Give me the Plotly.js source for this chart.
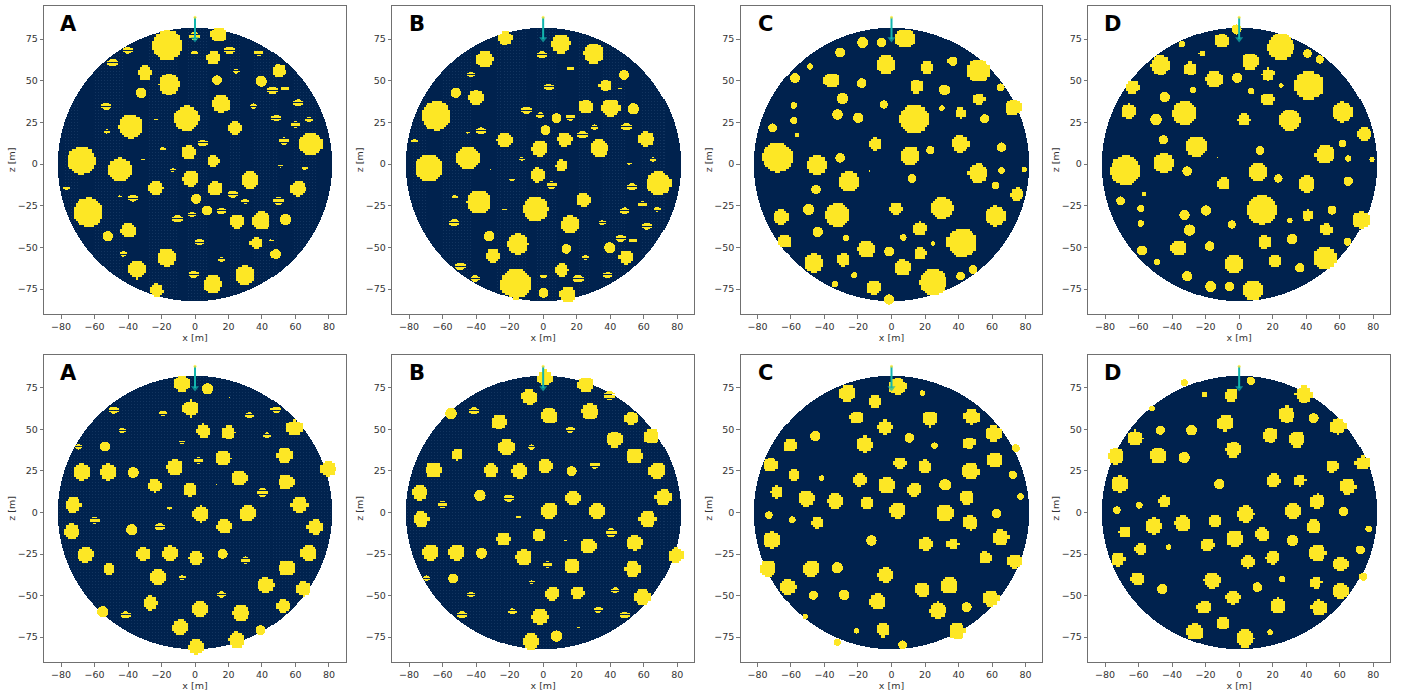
<!DOCTYPE html>
<html><head><meta charset="utf-8">
<script src="https://cdn.plot.ly/plotly-3.0.1.min.js"></script>
<style>html,body{margin:0;padding:0;background:#fff}#c{width:1402px;height:693px}</style>
</head><body><div id="c"></div>
<script>
// blobs: [x, z, radius] in metres
const topA=[[-16.5,71.6,9],[14,78,4.7],[0,77,2.6],[21,68.6,2.7],[38.5,67,2],[11,64,4],[0,67,1.5],[-40,68.6,2.2],[-49,61,2.7],[-30,55,4.2],[-15.5,48,6.2],[13.5,50.6,2.9],[25,56,1.5],[50,56,4.2],[40,50,3.3],[46.5,44.4,2.4],[53.7,45.6,1.8],[-32,43,3.2],[15.7,36.4,5.5],[61.6,36.8,2.4],[35.4,35,1.6],[-53,35,2.5],[-5,27.4,7.6],[48.7,28,2.1],[68,27,1.6],[60,24,2],[-23,27,.6],[-38.5,22.6,7.2],[24,21.6,4.3],[-52.7,19.8,1.3],[53,14,2.3],[69,12,7.1],[5,12.6,2.4],[-19,9.4,1.2],[-4,6.8,4.4],[-68,2.2,8.4],[11,1.8,3.6],[-45,-3.4,7.1],[-31,2.8,.4],[51,-1,.9],[65.6,-2,1.3],[-13,-3.4,1.2],[-2.6,-8.8,4.8],[33,-9.4,5.4],[-23.5,-14.2,4.4],[12.3,-14.8,4.4],[61.6,-14.8,4.5],[-76.7,-14,1.4],[23,-17.6,2.6],[-37,-20,2.3],[-45,-19,.6],[1,-20.6,3],[30.4,-22,1.7],[49.7,-22,2.6],[-64,-29,8.8],[7.5,-27.6,3],[16,-28,2.2],[-1.6,-30,1.8],[-10.3,-32.6,2.5],[25,-34.4,4.4],[40,-34,5.6],[54,-33,3.4],[-40,-39.8,4.6],[-52,-43,3.1],[3,-46.4,2.2],[37,-47.4,3.5],[45.7,-45.4,.5],[-42.7,-53.6,1.7],[-17,-56,5.6],[48.3,-53.8,3],[16.3,-57,1.4],[-34.8,-63,5.4],[-.6,-65.8,2.4],[30,-66.8,6],[10.4,-72,5.6],[-23,-75.8,4]];
const topB=[[-23,75.8,4],[-35,63,5.3],[-43,54,1.7],[-52,43,3.1],[-40,40,4.6],[-64,29,8.8],[-37,20,2.3],[-45,19,.6],[-76.7,14,1.4],[-23.3,14.4,4.4],[-68.4,-2.4,8.3],[-45,3.6,7.1],[-31,-2.8,.4],[-13,3.4,1.2],[-19,-9,1.2],[-38.5,-22.8,7.2],[-52.7,-19.6,1.3],[-23,-27,.6],[-5,-27,7.6],[-53,-35,2.5],[-32,-43,3.2],[-15.7,-48,6.2],[-30,-55,4.2],[-49.3,-61,2.7],[-40.4,-68.4,2.2],[-16.7,-71.6,9],[0,-77,3],[14,-78,4.7],[20.7,-68.6,2.7],[10.5,-63.6,4],[0,-67,1.5],[38.4,-66.4,2],[25,-55.8,1.5],[13.7,-50.6,2.9],[39.8,-50,3.3],[49.5,-56,4.2],[46.3,-44.4,2.4],[53.7,-45.6,1.8],[15.7,-36.4,5.5],[35.2,-35,1.6],[62,-36.8,2.4],[48.7,-27.8,2.1],[68.2,-26.8,1.6],[59.4,-23.8,1.8],[23.7,-21.4,4.3],[53,-13.4,2.3],[68.8,-11.6,7.1],[4.8,-12.4,2.4],[-3.8,-6.6,4.4],[10.7,-1,3.6],[51.3,.8,.9],[65.6,3,1.3],[-2.6,9.2,4.8],[33.2,9.4,5.4],[12.5,14.8,4.4],[61.6,15,4.5],[23.3,17.6,2.6],[1.2,20.6,3],[30.6,22.4,1.7],[49.7,22.4,2.6],[7.8,27.8,3],[16,28.4,2.2],[-2,29.6,1.8],[-10.3,32.6,2.5],[24.9,34.4,4.4],[40.2,33.8,5.6],[53.9,33.4,3.4],[3.2,46.4,2.2],[37,47.4,3.5],[45.7,45.6,.5],[48.3,53.8,3],[16.1,57.6,1.4],[-.8,65.8,2.4],[29.8,66.6,6],[10.1,72.2,5.6]];
const topC=[[7.8,75.6,6],[-6,73.2,2.8],[-17.3,73.2,3.3],[-30.8,67.2,3],[36.2,62,2.8],[-3.6,60.2,5.6],[20.9,58.4,4],[51.5,56.2,7],[-48.9,58.8,1.9],[-57.9,51.8,3],[-36.2,50.4,4.8],[-17.9,48.8,2.9],[14.9,46.8,4],[31.6,44.8,3.2],[64.8,46.2,2.4],[51.9,39.2,3.6],[-29.4,39.6,3.4],[-58.6,35.4,2],[-4.6,36,2.5],[72.4,34,5],[30.2,33.8,1.7],[40.8,31,3.5],[13.3,27,8.9],[-32.4,30,3.1],[-58.6,26.4,2.1],[-20,28,3.1],[55.3,27.4,2.7],[-70.8,22,2.6],[-56.7,17.8,1.4],[-10,12,3.8],[40.6,12.2,5.2],[65.4,10.4,2.8],[23.3,8.6,2.5],[-68.2,4,8.9],[-30.8,4,2.9],[10.9,5,5.8],[-45,-.6,6.1],[-13.3,-4,.5],[65.4,-3.6,1.9],[79,-3,1.6],[51.3,-5.6,5.8],[12.3,-8.4,2.6],[-25.8,-10.4,6.2],[61.8,-12.6,2.2],[-45.3,-15,2.8],[74.6,-18.2,4],[2.4,-26.8,3.7],[29.8,-26.4,6.6],[-49.7,-27,3.4],[-32.8,-30.6,7.2],[61.6,-31.2,6.2],[-66.2,-31.8,4.5],[16.7,-38.8,4.1],[-44.3,-40.4,3.1],[-27.4,-44.2,1.9],[7,-43.8,2],[41.7,-47.2,8.7],[24.9,-47.4,1.4],[-64,-46.4,4],[-15.3,-51.2,5.2],[-1.4,-52.2,3],[16.9,-53.8,3.7],[-29.2,-57.4,3.9],[-47,-59.4,5.8],[6.4,-62.2,5],[48.3,-63,2.6],[40.8,-67,2.6],[-22.3,-66.4,1.9],[24.7,-70.8,8.1],[-34,-71.8,2],[-10.9,-74.2,4.4],[-1.4,-81,3.1]];
const topD=[[-1.8,81,3],[-10.9,74.2,4.4],[-34,72.2,2],[24.5,70.6,8.1],[-22.3,66.6,1.8],[40.8,66.6,2.6],[48.1,63,2.5],[6.2,61.8,5],[-47.1,59.6,5.8],[-29.2,57.4,3.9],[16.9,54,3.7],[-1.4,52,3],[-15.3,51,5.2],[-63.8,46.4,4],[25,47.4,1.4],[41.6,47.4,8.7],[7,44,2],[-27.2,44.6,1.9],[-44.3,40.4,3.1],[16.7,39,4.1],[-66.2,31.6,4.5],[61.6,31.2,6.2],[-32.8,30.6,7.2],[-49.5,27,3.4],[29.8,26.4,6.6],[2.4,26.6,3.7],[74.4,18.2,4],[-45.1,14.8,2.8],[61.8,12.6,2.2],[-26,10.6,6.2],[12.3,8.4,2.6],[51.3,5.8,5.8],[-13.3,4.2,.5],[65.2,3.6,1.9],[78.9,3,1.6],[-45.1,.6,6.1],[-68.2,-3.8,8.9],[-30.8,-4,2.9],[10.9,-4.8,5.8],[23.3,-8.4,2.5],[40.4,-12,5.2],[-9.9,-11.8,3.8],[65.2,-10,2.8],[-56.7,-17.6,1.4],[-70.8,-21.8,2.6],[55.5,-27.4,2.7],[-58.6,-26.4,2.1],[-20,-27.6,3.1],[13.1,-27.4,8.9],[-32.4,-30.2,3.1],[40.8,-31,3.5],[30.2,-33.6,1.7],[72.6,-33.6,5],[-58.6,-35.4,2],[-4.6,-36,2.5],[-29.4,-39.4,3.4],[52.1,-39.2,3.6],[64.8,-46.4,2.4],[31.6,-44.8,3.2],[14.9,-46.8,4],[-17.9,-49,2.9],[-36.2,-50.4,4.8],[-57.9,-51.6,3],[-48.9,-58.6,1.9],[51.5,-56.4,7],[20.9,-58.4,4],[-3.6,-60.2,5.6],[36.2,-62,2.8],[-30.8,-67,3],[-17.3,-73.2,3.3],[-6,-73.2,2.8],[7.8,-75.6,6]];
const botA=[[-7.8,77.6,4.8],[7.8,74.2,3.4],[20.7,68.6,.5],[-2.6,62.4,4.9],[-48.5,61.6,2.4],[48.5,61.8,2.4],[-18.9,59.6,1.9],[32.8,58.2,2],[5,48.8,4.1],[20,48,4],[59.4,50.6,4.9],[-43.3,49.2,1.7],[43.5,46.2,1.9],[-53.7,39.6,3],[-7.4,42,1.2],[-69.6,39.4,1.7],[53.7,34.2,4.8],[17,32.4,4.6],[2.2,31.2,2],[-12.1,26.8,4.9],[-51.9,24,5],[-67.8,24,5],[-36.8,24,3.3],[79.5,26,4.6],[26.8,20.4,4.8],[54.5,18,4.7],[-24,16,4],[-3,13.6,4.2],[13,17,.4],[40.6,12,2.8],[-73,4.4,4.7],[62.4,4.4,4.9],[-15,2.6,.9],[3.4,-1.2,4.9],[31.6,-.8,5],[-59.8,-4.6,2.2],[17.5,-8.6,4.5],[71.8,-9,4.7],[-20.9,-8.8,2.5],[-37.6,-10.4,3.4],[-73.8,-11.8,4.7],[16.9,-24.8,3],[-14.9,-24.8,4.6],[-31,-25.2,4.2],[-65.6,-25.6,4.7],[.6,-27.8,4.3],[30.6,-28.6,2.2],[68,-24.6,5],[54.7,-33.6,4.8],[-51.7,-34.4,3.5],[-22.3,-39.2,4.8],[-7.4,-39.2,1.6],[42.3,-44,4.7],[65,-46,4.5],[16.3,-49.2,2],[-26.8,-54.6,4.3],[52.7,-56.4,4],[3.2,-58.2,4.9],[27.6,-60.6,5],[-55,-59.6,3.4],[-41.4,-61.6,2.4],[-8.7,-69.2,4.8],[39.6,-70.6,2.9],[25,-76.6,4.8],[.8,-80.8,4.6]];
const botB=[[.6,80.8,4.6],[25,76.8,4.8],[39.6,70.2,2.8],[-8.7,69.2,4.8],[-41.2,61,2.4],[-54.9,59.4,3.4],[3.2,58,4.9],[27.6,60.2,5],[52.7,56.4,4],[-26.6,54.2,4.3],[16.1,49.6,2],[65,45.6,4.5],[42.5,43.8,4.7],[-7.2,39.2,1.6],[-22.3,38.8,4.8],[-51.5,34.6,3.5],[54.5,33.6,4.8],[30.8,28.4,2.2],[.8,27.6,4.3],[-31.2,25,4.2],[-65.4,25.2,4.7],[-14.9,24.6,4.6],[16.9,24.8,3],[68,24.8,5],[71.8,8.8,4.7],[-73.8,11.8,4.7],[-37.6,10.2,3.4],[-20.9,8.8,2.5],[17.5,8.4,4.5],[-60,4.8,2.2],[3.2,.8,4.9],[31.8,.6,5],[-14.9,-2.8,.9],[62.4,-4.2,4.9],[-73,-4.4,4.7],[40.6,-12.2,2.8],[-3,-13.8,4.2],[-24,-16.2,4],[13.1,-17,.4],[54.5,-18.2,4.7],[26.8,-20.4,4.8],[79,-26,4.6],[-67.4,-24.2,5],[-51.9,-24.2,5],[-36.6,-24.4,3.3],[-12.1,-27.2,4.9],[2.2,-31.2,2],[16.9,-32.6,4.6],[53.7,-34.2,4.8],[-53.5,-39.6,3],[-69.6,-39.4,1.7],[-7.2,-42,1.2],[43.1,-46.6,1.8],[-43.1,-49.2,1.7],[5,-49,4.1],[20.3,-48.4,4],[59.4,-50.8,4.9],[-18.7,-59.4,1.9],[32.8,-58.4,2],[-2.4,-62.8,4.9],[-48.3,-61.6,2.4],[48.7,-61.8,2.4],[20.9,-69,.5],[7.8,-74.2,3.4],[-7.6,-77.4,4.8]];
const botC=[[3.4,75.6,5.2],[18.5,71.6,1.7],[-26.8,71.6,5],[-10.1,66.6,4],[-21.3,56.8,4],[22.7,56.2,4.7],[47.5,57.2,4.7],[-4.2,51,4.3],[60.6,47.2,4.9],[-45.7,45.8,3.1],[10.7,44.8,2.9],[-60.8,40,4],[-16.5,40.8,5],[45.9,41.8,3.6],[25.8,40,2],[74,38.6,2.4],[61.2,31.2,4.5],[4.8,29.6,3.9],[-72.2,28.4,4.3],[19.7,27.4,4],[46.7,24.4,5.2],[-58.8,22.4,3.5],[72.2,22.6,2.5],[-19.3,19.4,4],[-41.9,20.6,1.7],[-3.2,16,5.2],[32,16.6,3.4],[13.5,13.4,4.2],[-68.4,12,3.6],[44.5,8.6,4.4],[76.7,9.6,2],[-51.3,8.2,5],[-33.8,6.6,4.8],[-14.9,5.2,4],[3.4,1,5],[31.4,-.6,5],[62.4,-.6,2.9],[-73,-1.6,2.3],[-59.6,-4.4,2.1],[-44.7,-6.4,3.5],[46.7,-6.4,4.5],[65,-15.2,4.8],[-71.4,-16.8,5],[-12.1,-16.8,3.1],[20.1,-19.2,4.1],[36.2,-19.2,3.5],[55.5,-27.4,3.8],[73.2,-29.6,4.3],[-73.6,-33.8,5],[-48.5,-34,5],[-32.6,-33.2,3.4],[-3.8,-37.8,4.7],[18.3,-46.6,4.5],[34.2,-44.2,5],[-62.2,-45,4.7],[-46.9,-49.6,2.7],[-28.4,-49.4,3.2],[59,-51.8,4.9],[-8.7,-53.8,4.9],[44.5,-56.8,3],[27.6,-59,5],[-51.7,-62.4,1.7],[-21,-71,1.7],[-5.2,-70.6,4],[38.6,-71.2,5],[-32.6,-77.8,2.2],[6.6,-79.4,2.6]];
const botD=[[6.8,79,2.5],[-32.6,77.8,2.2],[-21,70.8,1.7],[-5.2,70.4,4],[38.6,70.8,5],[-51.9,62.4,1.7],[28,58.8,5],[44.5,56.6,3],[-8.9,53.8,4.9],[59,51.6,4.9],[-46.9,49.4,2.7],[-28.2,49.4,3.2],[-62.2,44.6,4.7],[34.2,44,5],[18.3,46.4,4.5],[-3.8,37.6,4.7],[-73.6,33.6,5],[-48.5,33.8,5],[-32.6,33,3.4],[55.5,27.4,3.8],[73.6,29.6,4.3],[20.1,19,4.1],[36.2,19,3.5],[-12.1,17,3.1],[-71.4,16.8,5],[65,15.2,4.8],[-44.7,6.4,3.5],[46.7,6.4,4.5],[-59.6,4.4,2.1],[-73,1.4,2.3],[62.4,.6,2.9],[3.4,-1.2,5],[31.6,.6,5],[-33.8,-6.8,4.8],[-14.9,-5.2,4],[-51.3,-8.4,5],[-68.6,-12,3.6],[13.5,-13.4,4.2],[44.3,-8.8,4.4],[76.9,-9.8,2],[-3.2,-16,5.2],[31.8,-16.8,3.4],[-19.5,-19.6,4],[-41.9,-20.8,1.7],[-59,-22.4,3.5],[72.2,-22.4,2.5],[46.5,-24.6,5.2],[19.5,-27.4,4],[4.8,-29.8,3.9],[-72.4,-28.4,4.3],[60.6,-31.4,4.5],[25.6,-40,2],[73.8,-38.6,2.4],[45.7,-42.2,3.6],[-16.7,-41,5],[-61,-40,4],[10.7,-44.8,2.9],[-45.7,-46,3.1],[-4.2,-51.2,4.3],[60.4,-47.4,4.9],[22.7,-56.2,4.7],[47.7,-57.4,4.7],[-21.3,-57.2,4],[-10.1,-66.6,4],[-26.8,-71.8,5],[18.3,-71.8,1.7],[3.2,-75.6,5.2]];

const panelLabels=['A','B','C','D','A','B','C','D'];
const panelBlobs=[topA,topB,topC,topD,botA,botB,botC,botD];
const discRadius=82;
const arrowX=[0,0];
const arrowZ=[88,75];
const xTicks=[-80,-60,-40,-20,0,20,40,60,80];
const zTicks=[-75,-50,-25,0,25,50,75];
// x ranges of the faint texture bands in the top-row A and B panels
const textureBands=[[-78,-70],[-60,-42],[-28,-10],[-5,8],[20,28],[36,50],[58,72]];

const W=1402,H=693;
const lefts=[44.3,392.3,740.7,1088.3], rights=[345.7,694,1042.3,1390];
const tops=[5.7,354.7], bottoms=[314,662];
const NAVY='#00224e',NAVY2='#12345f',YEL='#fde725',TEAL='#12b5ae',INK='#333333',FRAME='#707070';

const data=[],layout={width:W,height:H,margin:{l:0,r:0,t:0,b:0},showlegend:false,paper_bgcolor:'#fff',plot_bgcolor:'#fff',annotations:[]};
const STEP=0.6,LATTICE=1.2;
const coords=[];for(let k=0;k<=318;k++)coords.push(-95.4+k*STEP);
const snap=v=>Math.round(v/LATTICE)*LATTICE;

panelBlobs.forEach((blobs,i)=>{
  const n=i+1,s=n===1?'':String(n),col=i%4,row=i<4?0:1;
  const textured=col<2;
  const z=coords.map((zv,iz)=>coords.map((xv,ix)=>{
    if(xv*xv+zv*zv>discRadius*discRadius)return null;
    if(textured&&iz%3===0&&ix%3===0&&(row===1||textureBands.some(b=>xv>=b[0]&&xv<=b[1])))return 0.5;
    return 0;
  }));
  blobs.forEach(b=>{
    const striped=textured&&b[2]<=2.8;
    const coarse=b[2]>=3.5;
    coords.forEach((zv,iz)=>{
      if(Math.abs(zv-b[1])>b[2]+1)return;
      if(striped&&iz%4===1)return;
      coords.forEach((xv,ix)=>{
        const dx=(coarse?snap(xv):xv)-b[0],dz=(coarse?snap(zv):zv)-b[1];
        const wide=striped&&Math.abs(xv-b[0])<=b[2]+0.6&&Math.abs(zv-b[1])<=b[2]*0.5;
        if(dx*dx+dz*dz<=b[2]*b[2]||wide)z[iz][ix]=1;
      });
    });
  });
  data.push({type:'heatmap',x:coords,y:coords,z:z,xaxis:'x'+s,yaxis:'y'+s,zmin:0,zmax:1,showscale:false,zsmooth:false,hoverinfo:'skip',
    colorscale:[[0,NAVY],[0.5,NAVY],[0.5,NAVY2],[0.75,NAVY2],[0.75,YEL],[1,YEL]]});
  data.push({type:'scatter',mode:'lines+markers',x:arrowX,y:arrowZ,xaxis:'x'+s,yaxis:'y'+s,hoverinfo:'skip',cliponaxis:false,
    line:{color:TEAL,width:2},
    marker:{symbol:['circle','triangle-down'],size:[3,7],color:[YEL,TEAL],line:{width:0}}});
  const axisBase={showgrid:false,zeroline:false,showline:true,mirror:true,linecolor:FRAME,linewidth:1,ticks:'outside',ticklen:3.5,tickwidth:0.8,tickcolor:'#555',
    tickfont:{family:'DejaVu Sans',size:9.5,color:INK},tickmode:'array'};
  layout['xaxis'+s]=Object.assign({},axisBase,{domain:[lefts[col]/W,rights[col]/W],range:[-90,90],tickvals:xTicks,anchor:'y'+s,
    title:{text:'x [m]',font:{family:'DejaVu Sans',size:9.5,color:INK},standoff:0}});
  layout['yaxis'+s]=Object.assign({},axisBase,{domain:[1-bottoms[row]/H,1-tops[row]/H],range:[-90,95],tickvals:zTicks,anchor:'x'+s,
    title:{text:'z [m]',font:{family:'DejaVu Sans',size:9.5,color:INK},standoff:-5}});
  layout.annotations.push({xref:'x'+s,yref:'y'+s,x:-75.5,y:84,text:'<b>'+panelLabels[i]+'</b>',showarrow:false,
    font:{family:'DejaVu Sans',size:21,color:'#000'},xanchor:'center',yanchor:'middle'});
});
Plotly.newPlot('c',data,layout,{staticPlot:true,displayModeBar:false});
</script></body></html>
